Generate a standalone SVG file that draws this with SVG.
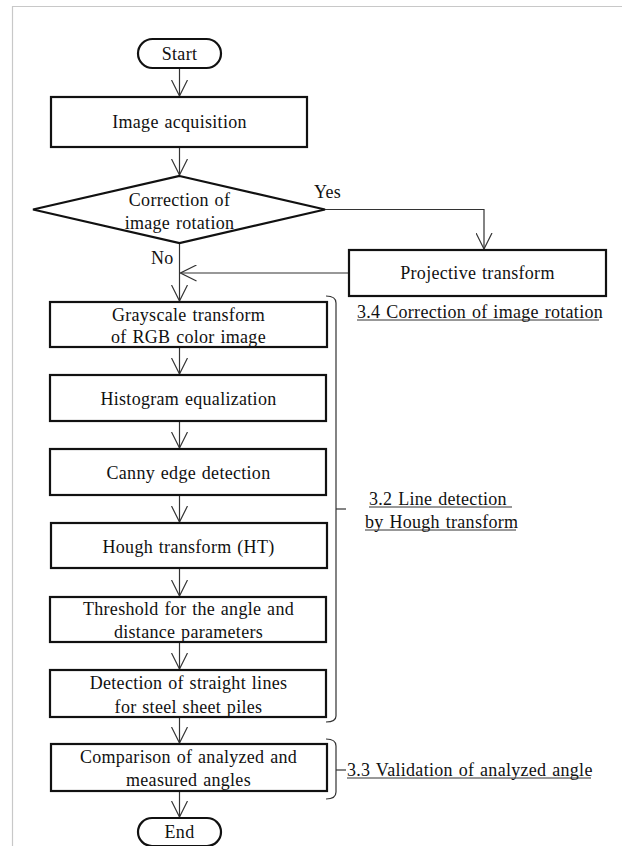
<svg xmlns="http://www.w3.org/2000/svg" width="622" height="846" viewBox="0 0 622 846">
<style>
  .bg { fill: #ffffff; }
  .frame { stroke: #c8c8c8; stroke-width: 1.2; fill: none; }
  .box { fill: #ffffff; stroke: #111111; stroke-width: 2.2; }
  .t { font-family: "Liberation Serif", "Times New Roman", serif; font-size: 18px; fill: #111111; text-anchor: middle; letter-spacing: 0.3px; word-spacing: 1px; }
  .lbl { font-family: "Liberation Serif", "Times New Roman", serif; font-size: 18px; fill: #111111; text-anchor: start; letter-spacing: 0.3px; word-spacing: 1px; }
  .ul { stroke: #333333; stroke-width: 1; fill: none; }
  .conn { stroke: #333333; stroke-width: 1.2; fill: none; }
  .brk { stroke: #333333; stroke-width: 1.2; fill: none; }
</style>
<defs>
  <marker id="arr" viewBox="0 0 17 17" refX="16.5" refY="8.5" markerWidth="17" markerHeight="17" markerUnits="userSpaceOnUse" orient="auto">
    <path d="M0.5,0.5 L16.5,8.5 L0.5,16.5" fill="none" stroke="#333333" stroke-width="1.2"/>
  </marker>
</defs>
<rect class="bg" x="0" y="0" width="622" height="846"/>
<path class="frame" d="M12.5,846 V6.5 H622"/>

<g id="connectors">
  <line class="conn" x1="179.5" y1="68" x2="179.5" y2="96" marker-end="url(#arr)"/>
  <line class="conn" x1="179.5" y1="147" x2="179.5" y2="175" marker-end="url(#arr)"/>
  <path class="conn" d="M325,209.5 H484 V249" marker-end="url(#arr)"/>
  <line class="conn" x1="349" y1="273" x2="180.5" y2="273" marker-end="url(#arr)"/>
  <line class="conn" x1="179.5" y1="243" x2="179.5" y2="301" marker-end="url(#arr)"/>
  <line class="conn" x1="179.5" y1="347" x2="179.5" y2="374" marker-end="url(#arr)"/>
  <line class="conn" x1="179.5" y1="421" x2="179.5" y2="448" marker-end="url(#arr)"/>
  <line class="conn" x1="179.5" y1="495" x2="179.5" y2="522" marker-end="url(#arr)"/>
  <line class="conn" x1="179.5" y1="568" x2="179.5" y2="596" marker-end="url(#arr)"/>
  <line class="conn" x1="179.5" y1="642" x2="179.5" y2="669" marker-end="url(#arr)"/>
  <line class="conn" x1="179.5" y1="717" x2="179.5" y2="743" marker-end="url(#arr)"/>
  <line class="conn" x1="179.5" y1="791" x2="179.5" y2="817" marker-end="url(#arr)"/>
  <text class="lbl" x="314" y="198">Yes</text>
  <text class="lbl" x="151" y="264">No</text>
</g>

<g id="start">
  <rect class="box" x="138" y="39" width="83" height="29" rx="14.5"/>
  <text class="t" x="179.5" y="60">Start</text>
</g>
<g id="image-acquisition">
  <rect class="box" x="51" y="97" width="256" height="50"/>
  <text class="t" x="179.5" y="128">Image acquisition</text>
</g>
<g id="decision">
  <polygon class="box" points="179.5,176 325,209.5 179.5,243 33,209.5"/>
  <text class="t" x="179.5" y="206">Correction of</text>
  <text class="t" x="179.5" y="229">image rotation</text>
</g>
<g id="projective">
  <rect class="box" x="349" y="250" width="257" height="46"/>
  <text class="t" x="477.5" y="279">Projective transform</text>
</g>
<g id="grayscale">
  <rect class="box" x="50" y="302" width="277" height="45"/>
  <text class="t" x="188.5" y="321">Grayscale transform</text>
  <text class="t" x="188.5" y="343">of RGB color image</text>
</g>
<g id="histogram">
  <rect class="box" x="50" y="375" width="276" height="46"/>
  <text class="t" x="188.5" y="405">Histogram equalization</text>
</g>
<g id="canny">
  <rect class="box" x="50" y="449" width="276" height="46"/>
  <text class="t" x="188.5" y="479">Canny edge detection</text>
</g>
<g id="hough">
  <rect class="box" x="51" y="523" width="276" height="45"/>
  <text class="t" x="188.5" y="553">Hough transform (HT)</text>
</g>
<g id="threshold">
  <rect class="box" x="50" y="597" width="276" height="45"/>
  <text class="t" x="188.5" y="615">Threshold for the angle and</text>
  <text class="t" x="188.5" y="638">distance parameters</text>
</g>
<g id="detection">
  <rect class="box" x="50" y="670" width="276" height="47"/>
  <text class="t" x="188.5" y="689">Detection of straight lines</text>
  <text class="t" x="188.5" y="713">for steel sheet piles</text>
</g>
<g id="comparison">
  <rect class="box" x="51" y="744" width="276" height="47"/>
  <text class="t" x="188.5" y="763">Comparison of analyzed and</text>
  <text class="t" x="188.5" y="786">measured angles</text>
</g>
<g id="end">
  <rect class="box" x="138" y="818" width="83" height="28" rx="14"/>
  <text class="t" x="179.5" y="838">End</text>
</g>

<g id="section-3-4">
  <text class="lbl" x="357" y="318">3.4 Correction of image rotation</text>
  <line class="ul" x1="357" y1="320" x2="599" y2="320"/>
</g>
<g id="section-3-2">
  <path class="brk" d="M326,296 Q336,296 336,303 V716 Q336,722 326,722"/>
  <line class="brk" x1="336" y1="509" x2="346" y2="509"/>
  <text class="lbl" x="369" y="505">3.2 Line detection</text>
  <line class="ul" x1="369" y1="507" x2="512" y2="507"/>
  <text class="lbl" x="365" y="528">by Hough transform</text>
  <line class="ul" x1="365" y1="530" x2="516" y2="530"/>
</g>
<g id="section-3-3">
  <path class="brk" d="M326,739 Q336,739 336,746 V792 Q336,799 326,799"/>
  <line class="brk" x1="336" y1="770" x2="346" y2="770"/>
  <text class="lbl" x="347" y="776">3.3 Validation of analyzed angle</text>
  <line class="ul" x1="347" y1="778" x2="591" y2="778"/>
</g>
</svg>
